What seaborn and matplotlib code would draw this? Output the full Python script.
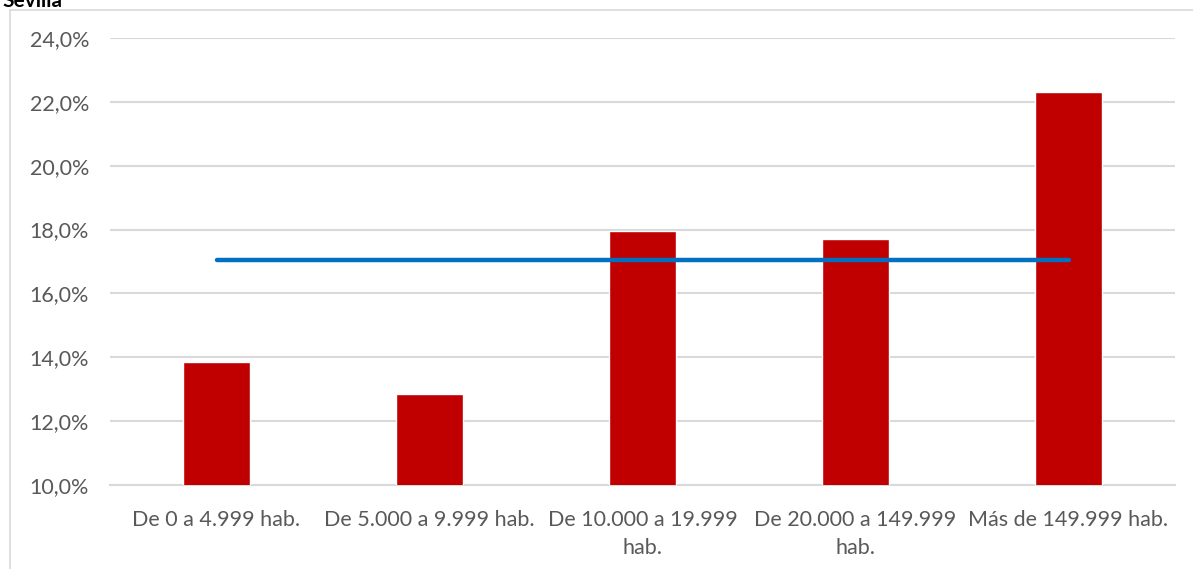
import matplotlib
matplotlib.use("Agg")
import matplotlib.pyplot as plt
from matplotlib.patches import Rectangle
from matplotlib.ticker import FuncFormatter
import seaborn as sns
import pandas as pd

# Share by municipality size and the overall average
categories = [
    "De 0 a 4.999 hab.",
    "De 5.000 a 9.999 hab.",
    "De 10.000 a 19.999\nhab.",
    "De 20.000 a 149.999\nhab.",
    "Más de 149.999 hab.",
]
values = [13.85, 12.85, 17.95, 17.7, 22.3]
average = [17.05, 17.05, 17.05, 17.05, 17.05]
y_ticks = [10, 12, 14, 16, 18, 20, 22, 24]
title = "Sevilla"

sns.set_theme(style="white")
plt.rcParams["font.family"] = ["Lato", "DejaVu Sans"]

df = pd.DataFrame({"cat": categories, "val": values, "avg": average})

fig = plt.figure(figsize=(11.93, 5.69), dpi=100)
ax = fig.add_axes([110 / 1193, 1 - 485 / 569, 1065 / 1193, (485 - 38) / 569])

sns.barplot(data=df, x="cat", y="val", color="#C00000", width=0.31,
            saturation=1, ax=ax, zorder=3)
sns.lineplot(data=df, x="cat", y="avg", color="#0070C0", linewidth=3.2,
             solid_capstyle="round", ax=ax, zorder=4, sort=False)

ax.set_ylim(10, 24)
ax.set_xlim(-0.5, len(categories) - 0.5)
ax.set_yticks(y_ticks)
ax.yaxis.set_major_formatter(FuncFormatter(lambda v, p: f"{v:.1f}%".replace(".", ",")))
ax.grid(axis="y", color="#D9D9D9", linewidth=1.5, zorder=0)
ax.set_axisbelow(True)
ax.set_xlabel("")
ax.set_ylabel("")
for side in ["top", "right", "left"]:
    ax.spines[side].set_visible(False)
ax.spines["bottom"].set_color("#D9D9D9")
ax.spines["bottom"].set_linewidth(1.5)
ax.tick_params(axis="both", length=0, labelsize=15.5, colors="#595959")
ax.tick_params(axis="y", pad=15)
ax.tick_params(axis="x", pad=18)
for lbl in ax.get_xticklabels():
    lbl.set_linespacing(1.5)

# Chart frame
fig.patches.append(Rectangle((10 / 1193, -0.1), 1.2, 1 - 10 / 569 + 0.1,
                             transform=fig.transFigure, fill=False,
                             edgecolor="#D9D9D9", linewidth=1.2))
fig.text(2 / 1193, 1 + 9 / 569, title, fontsize=15, fontweight="bold",
         color="black", va="top", ha="left")

fig.savefig("out.png", dpi=100)
